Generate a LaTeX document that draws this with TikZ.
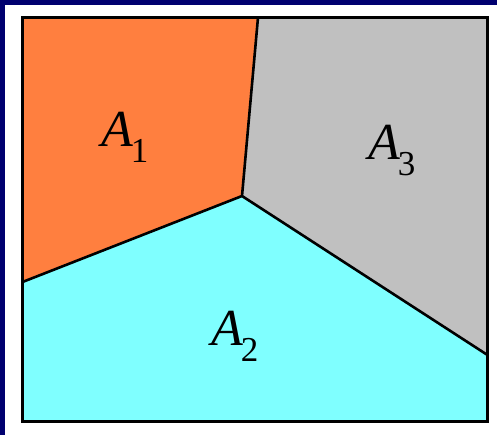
\documentclass[tikz,border=0pt]{standalone}
\usepackage{fontspec}
\setmainfont{Liberation Serif}
\definecolor{navyb}{RGB}{0,0,112}
\definecolor{regA}{RGB}{255,127,63}
\definecolor{regB}{RGB}{127,255,255}
\definecolor{regC}{RGB}{192,192,192}
\newcommand\arealbl[1]{\fontsize{52}{52}\selectfont\itshape A\kern-2pt\raisebox{-16pt}{\upshape\fontsize{35}{35}\selectfont #1}}
\begin{document}
\begin{tikzpicture}[x=1pt,y=-1pt,
  lbl/.style={anchor=base west,inner sep=0pt}]
\useasboundingbox (0,0) rectangle (497,435);
\fill[white] (0,0) rectangle (497,435);
\fill[navyb] (0,0) rectangle (497,5);
\fill[navyb] (0,0) rectangle (5,435);
\coordinate (tl) at (22.5,17.5);
\coordinate (tr) at (487.5,17.5);
\coordinate (br) at (487.5,421.5);
\coordinate (bl) at (22.5,421.5);
\coordinate (j) at (242,196);
\coordinate (t) at (258,17.5);
\coordinate (l) at (22.5,282);
\coordinate (r) at (487.5,355);
\fill[regA] (tl) -- (t) -- (j) -- (l) -- cycle;
\fill[regC] (t) -- (tr) -- (r) -- (j) -- cycle;
\fill[regB] (l) -- (j) -- (r) -- (br) -- (bl) -- cycle;
\draw[line width=2.6pt,line join=round] (t) -- (j) -- (l);
\draw[line width=2.6pt,line join=round] (j) -- (r);
\draw[line width=3.5pt] (tl) rectangle (br);
\node[lbl] (a1) at (101,147) {\arealbl{1}};
\node[lbl] (a2) at (211,345) {\arealbl{2}};
\node[lbl] (a3) at (368,160) {\arealbl{3}};
\end{tikzpicture}
\end{document}
